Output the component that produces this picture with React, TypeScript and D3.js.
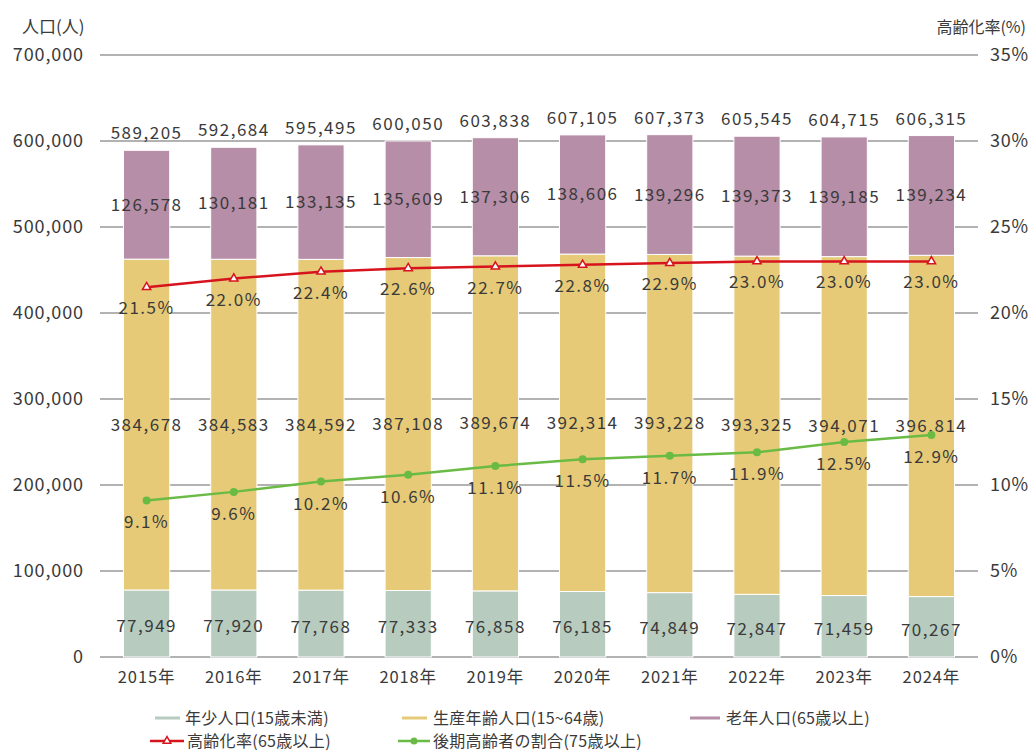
import React from "react";
import * as d3 from "d3";

const years = ["2015年","2016年","2017年","2018年","2019年","2020年","2021年","2022年","2023年","2024年"];
const young = [77949, 77920, 77768, 77333, 76858, 76185, 74849, 72847, 71459, 70267];
const working = [384678, 384583, 384592, 387108, 389674, 392314, 393228, 393325, 394071, 396814];
const elderly = [126578, 130181, 133135, 135609, 137306, 138606, 139296, 139373, 139185, 139234];
const totals = [589205, 592684, 595495, 600050, 603838, 607105, 607373, 605545, 604715, 606315];
const agingRate = [21.5, 22.0, 22.4, 22.6, 22.7, 22.8, 22.9, 23.0, 23.0, 23.0];
const lateRate = [9.1, 9.6, 10.2, 10.6, 11.1, 11.5, 11.7, 11.9, 12.5, 12.9];
const leftTicks = [0, 100000, 200000, 300000, 400000, 500000, 600000, 700000];
const rightTicks = [0, 5, 10, 15, 20, 25, 30, 35];

const W = 1032, H = 752;
const COL_Y = "#b7cbbf", COL_W = "#e6ca78", COL_E = "#b68ea8";
const RED = "#d7141e", GREEN = "#6abb45";
const FONT = "'Noto Sans CJK JP', 'Noto Sans', sans-serif";
const TXT = "#3a3a3a";

export default function App() {
  const x = d3.scaleBand<string>().domain(years).range([103, 975]).paddingInner(0.47).paddingOuter(0.235);
  const y = d3.scaleLinear().domain([0, 700000]).range([657, 55]);
  const yr = d3.scaleLinear().domain([0, 35]).range([657, 55]);
  const fmt = d3.format(",");
  const cx = (i: number) => (x(years[i]) as number) + x.bandwidth() / 2;
  const redLine = d3.line<number>().x((_, i) => cx(i)).y(d => yr(d));
  const fmtP = (v: number) => v.toFixed(1) + "%";
  const bw = x.bandwidth();
  const LS = 1.5;

  return (
    <svg width={W} height={H} style={{ display: "block", position: "absolute", left: 0, top: 0, background: "#fff" }} fontFamily={FONT}>
      <text x={22} y={33} fontSize={17} fill={TXT}>人口(人)</text>
      <text x={1026} y={33} fontSize={16} fill={TXT} textAnchor="end">高齢化率(%)</text>
      {leftTicks.map(t => (
        <g key={t}>
          <line x1={100} x2={978} y1={y(t)} y2={y(t)} stroke="#999" strokeWidth={1.5} />
          <text x={84} y={y(t)} dy="0.35em" fontSize={18} letterSpacing={0.9} textAnchor="end" fill={TXT}>{fmt(t)}</text>
        </g>
      ))}
      {rightTicks.map(t => (
        <text key={t} x={990} y={yr(t)} dy="0.35em" fontSize={18} letterSpacing={0.8} fill={TXT}>{t + "%"}</text>
      ))}
      {years.map((yy, i) => {
        const x0 = x(yy) as number;
        const b1 = young[i], b2 = young[i] + working[i], b3 = b2 + elderly[i];
        return (
          <g key={yy}>
            <rect x={x0} width={bw} y={y(b1)} height={y(0) - y(b1)} fill={COL_Y} stroke="#fff" strokeWidth={1} />
            <rect x={x0} width={bw} y={y(b2)} height={y(b1) - y(b2)} fill={COL_W} stroke="#fff" strokeWidth={1} />
            <rect x={x0} width={bw} y={y(b3)} height={y(b2) - y(b3)} fill={COL_E} stroke="#fff" strokeWidth={1} />
            <text x={cx(i)} y={y(totals[i]) - 11} fontSize={17} letterSpacing={LS} textAnchor="middle" fill={TXT}>{fmt(totals[i])}</text>
            <text x={cx(i)} y={y((b2 + b3) / 2)} dy="0.35em" fontSize={17} letterSpacing={LS} textAnchor="middle" fill={TXT}>{fmt(elderly[i])}</text>
            <text x={cx(i)} y={y((b1 + b2) / 2)} dy="0.35em" fontSize={17} letterSpacing={LS} textAnchor="middle" fill={TXT}>{fmt(working[i])}</text>
            <text x={cx(i)} y={y(b1 / 2) + 3} dy="0.35em" fontSize={17} letterSpacing={LS} textAnchor="middle" fill={TXT}>{fmt(young[i])}</text>
            <text x={cx(i)} y={677} dy="0.35em" fontSize={16.5} letterSpacing={0.9} textAnchor="middle" fill={TXT}>{yy}</text>
          </g>
        );
      })}
      <path d={redLine(agingRate) || ""} fill="none" stroke={RED} strokeWidth={2.5} />
      <path d={redLine(lateRate) || ""} fill="none" stroke={GREEN} strokeWidth={2.5} />
      {agingRate.map((v, i) => (
        <g key={"r" + i}>
          <path d={d3.symbol().type(d3.symbolTriangle).size(30)() || ""} transform={`translate(${cx(i)},${yr(v)})`} fill="#fff" stroke={RED} strokeWidth={1.5} />
          <text x={cx(i)} y={yr(v) + 21} dy="0.35em" fontSize={17} letterSpacing={LS} textAnchor="middle" fill={TXT}>{fmtP(v)}</text>
        </g>
      ))}
      {lateRate.map((v, i) => (
        <g key={"g" + i}>
          <circle cx={cx(i)} cy={yr(v)} r={4} fill={GREEN} />
          <text x={cx(i)} y={yr(v) + 22} dy="0.35em" fontSize={17} letterSpacing={LS} textAnchor="middle" fill={TXT}>{fmtP(v)}</text>
        </g>
      ))}
      {/* legend */}
      <g fontSize={16} fill={TXT} letterSpacing={0.3}>
        <line x1={155} x2={180} y1={718} y2={718} stroke={COL_Y} strokeWidth={3} />
        <text x={185} y={718} dy="0.35em">年少人口(15歳未満)</text>
        <line x1={402} x2={427} y1={718} y2={718} stroke={COL_W} strokeWidth={3} />
        <text x={433} y={718} dy="0.35em">生産年齢人口(15~64歳)</text>
        <line x1={690} x2={720} y1={718} y2={718} stroke={COL_E} strokeWidth={3} />
        <text x={726} y={718} dy="0.35em">老年人口(65歳以上)</text>
        <line x1={150} x2={184} y1={741} y2={741} stroke={RED} strokeWidth={2.5} />
        <path d={d3.symbol().type(d3.symbolTriangle).size(25)() || ""} transform="translate(167,741)" fill="#fff" stroke={RED} strokeWidth={1.5} />
        <text x={187} y={741} dy="0.35em">高齢化率(65歳以上)</text>
        <line x1={398} x2={430} y1={741} y2={741} stroke={GREEN} strokeWidth={2.5} />
        <circle cx={414} cy={741} r={3.5} fill={GREEN} />
        <text x={433} y={741} dy="0.35em">後期高齢者の割合(75歳以上)</text>
      </g>
    </svg>
  );
}
